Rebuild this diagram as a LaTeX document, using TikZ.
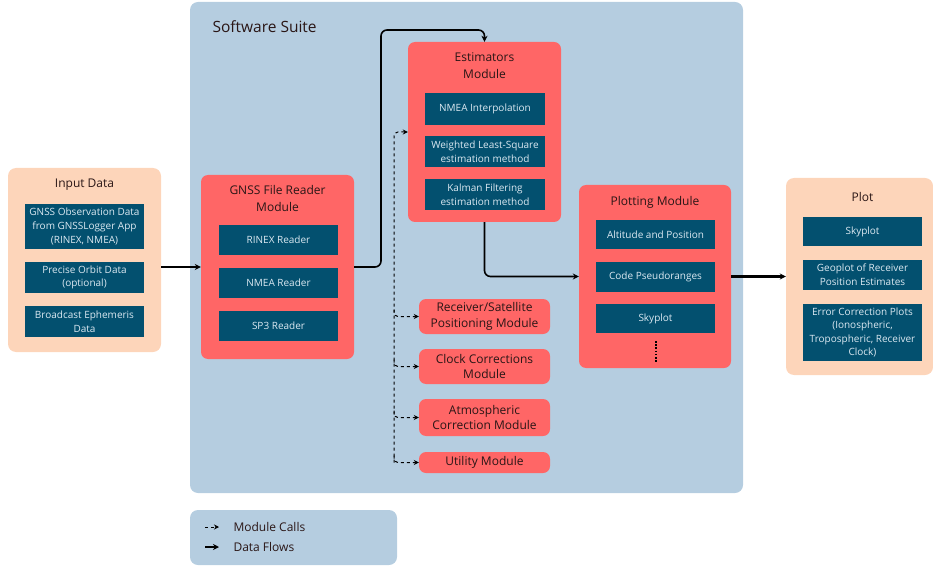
\documentclass[tikz,border=0pt]{standalone}
\usepackage{fontspec}
\setmainfont{Open Sans}
\usetikzlibrary{arrows.meta}
\definecolor{suiteblue}{HTML}{B5CDE0}
\definecolor{peach}{HTML}{FDD5BA}
\definecolor{modred}{HTML}{FF6666}
\definecolor{inkblue}{HTML}{03506F}
\definecolor{paletext}{HTML}{DCE9F2}
\definecolor{darkink}{HTML}{2A1616}
\begin{document}
\begin{tikzpicture}[x=1pt,y=-1pt,
  panel/.style={rounded corners=8pt, inner sep=0pt},
  module/.style={fill=modred, rounded corners=7pt, inner sep=0pt, align=center,
    text=darkink, font=\fontsize{12}{15.5}\selectfont},
  inbox/.style={fill=inkblue, inner sep=0pt, align=center, text=paletext,
    font=\fontsize{10}{13.6}\selectfont, minimum width=119pt},
  heading/.style={align=center, text=darkink, font=\fontsize{12}{17}\selectfont},
  flow/.style={-{Stealth[length=6pt,width=6pt]}, line width=1.6pt, rounded corners=6pt},
  call/.style={-{Stealth[length=5pt,width=5pt]}, dashed, line width=1pt, rounded corners=4pt}]
\useasboundingbox (0,0) rectangle (933,569);
% software suite
\node[panel, fill=suiteblue, minimum width=553pt, minimum height=491pt] (suite) at (466.5,247.5) {};
\node[anchor=west, text=darkink, font=\fontsize{15.5}{18}\selectfont] (suitetitle) at (209,27) {Software Suite};
% input data
\node[panel, fill=peach, minimum width=153pt, minimum height=184pt] (input) at (84.5,260) {};
\node[heading] (inputtitle) at (84.5,185) {Input Data};
\node[inbox, minimum height=45pt] (obs) at (84.5,226.5) {GNSS Observation Data\\from GNSSLogger App\\(RINEX, NMEA)};
\node[inbox, minimum height=31pt] (orbit) at (84.5,277.5) {Precise Orbit Data\\(optional)};
\node[inbox, minimum height=31pt] (ephem) at (84.5,321.5) {Broadcast Ephemeris\\Data};
% file reader
\node[module, minimum width=153pt, minimum height=184pt] (reader) at (277.5,267) {};
\node[heading] (readertitle) at (277.5,198.5) {GNSS File Reader\\Module};
\node[inbox, minimum height=30pt] (rinex) at (278.5,240) {RINEX Reader};
\node[inbox, minimum height=30pt] (nmea) at (278.5,283) {NMEA Reader};
\node[inbox, minimum height=30pt] (sp3) at (278.5,326) {SP3 Reader};
% estimators
\node[module, minimum width=153pt, minimum height=180pt] (est) at (484.5,132) {};
\node[heading] (esttitle) at (484.5,65.5) {Estimators\\Module};
\node[inbox, minimum width=120pt, minimum height=32pt] (interp) at (485,109) {NMEA Interpolation};
\node[inbox, minimum width=120pt, minimum height=31pt] (wls) at (485,151.5) {Weighted Least-Square\\estimation method};
\node[inbox, minimum width=120pt, minimum height=31pt] (kalman) at (485,194.5) {Kalman Filtering\\estimation method};
% called modules
\node[module, minimum width=131pt, minimum height=35pt] (rsp) at (484.5,316.5) {Receiver/Satellite\\Positioning Module};
\node[module, minimum width=131pt, minimum height=35pt] (clk) at (484.5,366.5) {Clock Corrections\\Module};
\node[module, minimum width=131pt, minimum height=37pt] (atm) at (484.5,417.5) {Atmospheric\\Correction Module};
\node[module, minimum width=131pt, minimum height=21pt] (utl) at (484.5,462.5) {Utility Module};
% plotting
\node[module, minimum width=152pt, minimum height=183pt] (plotmod) at (655,276.5) {};
\node[heading] (plottitle) at (655,202) {Plotting Module};
\node[inbox, minimum height=29pt] (alt) at (655.5,234.5) {Altitude and Position};
\node[inbox, minimum height=30pt] (code) at (655.5,277) {Code Pseudoranges};
\node[inbox, minimum height=29pt] (sky) at (655.5,318.5) {Skyplot};
\draw[line width=2.2pt, dash pattern=on 1.6pt off 1.6pt] (656,341) -- (656,363);
% plot output
\node[panel, fill=peach, minimum width=147pt, minimum height=197pt] (plot) at (859.5,276.5) {};
\node[heading] (plotouttitle) at (862.5,197) {Plot};
\node[inbox, minimum height=29pt] (skyout) at (862.5,231.5) {Skyplot};
\node[inbox, minimum height=30pt] (geo) at (862.5,275) {Geoplot of Receiver\\Position Estimates};
\node[inbox, minimum height=57pt] (errplot) at (862.5,332.5) {Error Correction Plots\\(Ionospheric,\\Tropospheric, Receiver\\Clock)};
% data flows
\draw[flow] (input.east |- reader.west) -- (reader.west);
\coordinate (up) at (381,30);
\draw[flow] (reader.east) -| (up) -| (est.north);
\draw[flow] (est.south) |- (plotmod.west);
\draw[flow, line width=2.2pt] (plotmod.east) -- (plot.west);
% module calls
\coordinate (trunk) at (394,462.5);
\draw[call] (trunk) |- (est.west);
\foreach \m in {rsp,clk,atm,utl}
  \draw[call] (trunk |- \m.west) ++(0,-7) |- (\m.west);
% legend
\node[panel, fill=suiteblue, minimum width=207pt, minimum height=55pt] (legend) at (293.5,537.5) {};
\coordinate (ca) at (205,527);
\coordinate (cb) at (219,527);
\coordinate (fa) at (205,547);
\coordinate (fb) at (219,547);
\draw[call] (ca) -- (cb);
\draw[flow] (fa) -- (fb);
\node[anchor=west, text=darkink, font=\fontsize{12}{14}\selectfont] (calltext) at (230,527) {Module Calls};
\node[anchor=west, text=darkink, font=\fontsize{12}{14}\selectfont] (flowtext) at (230,547) {Data Flows};
\end{tikzpicture}
\end{document}
